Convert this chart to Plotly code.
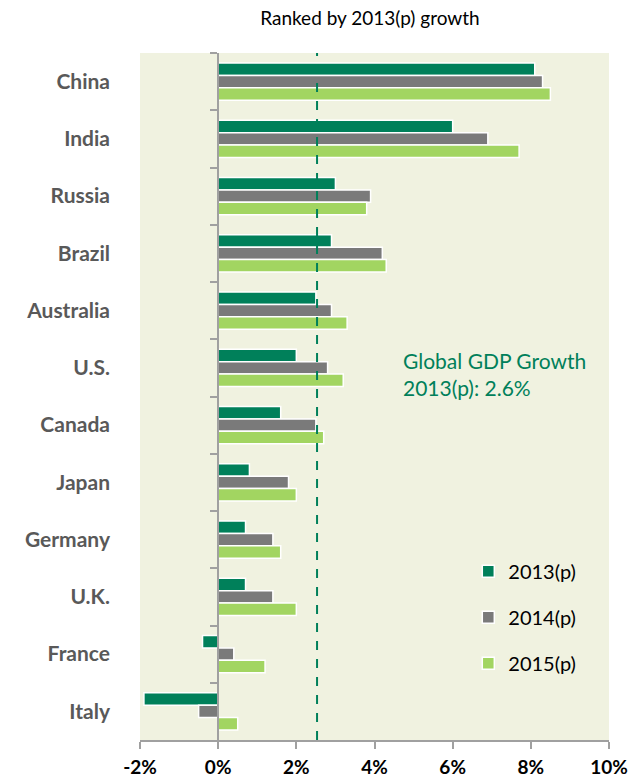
import plotly.graph_objects as go

countries = ["China", "India", "Russia", "Brazil", "Australia", "U.S.", "Canada",
             "Japan", "Germany", "U.K.", "France", "Italy"]
g2013 = [8.1, 6.0, 3.0, 2.9, 2.5, 2.0, 1.6, 0.8, 0.7, 0.7, -0.4, -1.9]
g2014 = [8.3, 6.9, 3.9, 4.2, 2.9, 2.8, 2.5, 1.8, 1.4, 1.4, 0.4, -0.5]
g2015 = [8.5, 7.7, 3.8, 4.3, 3.3, 3.2, 2.7, 2.0, 1.6, 2.0, 1.2, 0.5]
series_names = ["2013(p)", "2014(p)", "2015(p)"]
series_colors = ["#00805A", "#7A7A7A", "#A2D561"]
global_line = 2.53
x_ticks = [-2, 0, 2, 4, 6, 8, 10]
x_ticklabels = ["-2%", "0%", "2%", "4%", "6%", "8%", "10%"]

FONT = "Lato, 'Open Sans', sans-serif"

fig = go.Figure()
for i, (name, vals, col) in enumerate(zip(series_names, [g2013, g2014, g2015], series_colors)):
    fig.add_trace(go.Bar(
        x=vals, y=countries, orientation="h", name=name,
        marker=dict(color=col, line=dict(color="white", width=1.5)),
        legendgroup=name,
    ))

# invisible trace to hold the zero-axis (y2)
fig.add_trace(go.Bar(x=[0] * len(countries), y=countries, orientation="h",
                     yaxis="y2", showlegend=False, marker=dict(color="rgba(0,0,0,0)"),
                     hoverinfo="skip"))

fig.add_shape(type="line", xref="x", yref="paper", x0=global_line, x1=global_line,
              y0=0, y1=1, line=dict(color="#00805A", width=2, dash="dash"), layer="above")

fig.add_annotation(xref="x", yref="paper", x=4.68, y=0.533, xanchor="left", yanchor="middle",
                   text="Global GDP Growth<br>2013(p): 2.6%", showarrow=False, align="left",
                   font=dict(family=FONT, size=21, color="#00805A"))

fig.update_layout(
    width=634, height=781,
    margin=dict(l=140, r=25, t=53, b=41, autoexpand=False),
    paper_bgcolor="white", plot_bgcolor="#F0F2E0",
    barmode="group", bargap=0.35, bargroupgap=0.0,
    font=dict(family=FONT, color="black"),
    title=dict(text="Ranked by 2013(p) growth", x=0.5835, xanchor="center",
               y=0.977, yanchor="middle", automargin=False,
               font=dict(family=FONT, size=19, color="black")),
    xaxis=dict(range=[-2, 10], tickvals=x_ticks, ticktext=x_ticklabels, showgrid=False,
               zeroline=False, showline=True, linecolor="#A0A0A0", linewidth=2,
               ticks="outside", ticklen=7, tickcolor="#A0A0A0", tickwidth=2, automargin=False,
               tickfont=dict(family=FONT, size=19, color="black", weight="bold"),
               ticklabelstandoff=2),
    yaxis=dict(type="category", categoryorder="array", categoryarray=countries,
               range=[11.5, -0.5], showgrid=False, zeroline=False, showline=False,
               ticks="", automargin=False,
               tickfont=dict(family=FONT, size=21, color="#595959", weight="bold"),
               ticklabelstandoff=29),
    yaxis2=dict(type="category", categoryorder="array", categoryarray=countries,
                range=[11.5, -0.5], overlaying="y", anchor="free", position=2 / 12,
                side="left", showgrid=False, zeroline=False, showticklabels=False,
                showline=True, linecolor="#A0A0A0", linewidth=2, automargin=False,
                ticks="outside", ticklen=7, tickcolor="#A0A0A0", tickwidth=2,
                tickson="boundaries"),
    legend=dict(x=0.70, y=0.274, xanchor="left", yanchor="top", bgcolor="rgba(0,0,0,0)",
                font=dict(family=FONT, size=20, color="black"), traceorder="grouped",
                tracegroupgap=17, itemwidth=30),
    showlegend=True,
)

fig.write_html("out.html", post_script="document.body.style.margin='0';document.body.style.padding='0';")
